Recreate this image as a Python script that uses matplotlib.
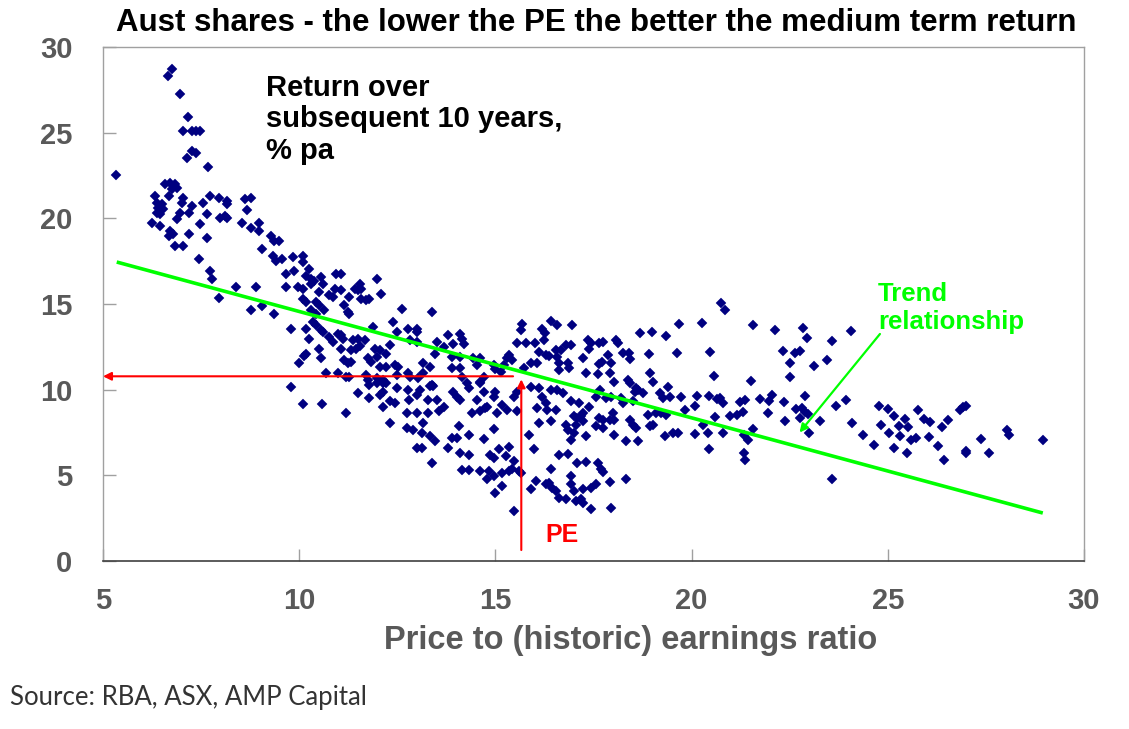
import matplotlib
matplotlib.use("Agg")
import matplotlib.pyplot as plt

# ---- data: (PE ratio, subsequent 10-year return % pa) ----
pts_high_returns = [
    (5.34, 22.52), (6.75, 28.71), (6.65, 28.31), (6.96, 27.26), (7.16, 25.89), (7.05, 25.08),
    (7.26, 25.08), (7.38, 25.08), (7.48, 25.12), (7.26, 23.92), (7.38, 23.82), (7.15, 23.53),
    (7.68, 22.99),
]
pts_low_pe = [
    (6.58, 21.98), (6.71, 22.07), (6.84, 21.98), (6.88, 21.78), (6.75, 21.69),
    (6.32, 21.3), (6.67, 21.3), (7.05, 21.2), (7.73, 21.3), (7.95, 21.2), (8.16, 21.01),
    (8.16, 20.82), (8.63, 21.1), (8.76, 21.2), (6.37, 20.91), (6.5, 20.82), (6.41, 20.62),
    (6.54, 20.53), (6.37, 20.33), (6.45, 20.24), (7.01, 20.91), (7.26, 20.72), (7.56, 20.91),
    (6.97, 20.33), (7.18, 20.33), (7.65, 20.24), (7.99, 20.04), (8.12, 20.14), (8.16, 20.04),
    (6.24, 19.75), (6.45, 19.56), (6.71, 19.27), (6.67, 18.98), (6.79, 19.07), (6.88, 19.95),
    (7.18, 19.07), (7.48, 19.66), (7.65, 18.88), (8.55, 19.75), (8.76, 19.46), (8.97, 19.75),
    (8.97, 19.27), (6.84, 18.4), (7.05, 18.4), (9.06, 18.2), (9.27, 18.98), (9.36, 18.69),
    (9.49, 18.69), (8.68, 20.47), (7.44, 17.62), (7.73, 16.95), (7.78, 16.46), (9.32, 17.82),
    (9.4, 17.53), (8.38, 16.02), (8.89, 15.98), (7.95, 15.36), (8.76, 14.66), (9.06, 14.86),
    (9.36, 14.43),
]
pts_pe_10_15_upper = [
    (9.57, 17.63), (9.83, 17.72), (10.09, 17.82), (10.09, 17.43), (9.87, 16.95), (9.66, 16.76),
    (10.26, 17.05), (10.17, 16.66), (10.3, 16.47), (10.38, 16.37), (10.56, 16.56), (10.6, 16.18),
    (9.66, 15.98), (9.96, 15.98), (10.09, 15.89), (10.3, 16.18), (10.51, 15.69),
    (10.94, 16.76), (11.07, 16.76), (10.9, 15.89), (11.07, 15.79), (10.77, 15.5), (10.85, 15.4),
    (11.54, 16.18), (11.41, 15.89), (11.5, 15.79), (11.58, 15.89), (11.28, 15.4), (11.58, 15.31),
    (11.71, 15.21), (11.79, 15.31), (11.99, 16.43), (12.09, 15.6),
    (10.09, 15.31), (10.17, 15.11), (10.43, 15.11), (10.51, 14.92), (10.3, 14.63), (10.43, 14.43),
    (10.64, 14.63), (11.15, 14.92), (11.24, 14.53), (11.28, 14.43), (12.61, 14.72), (13.38, 14.53),
    (9.79, 13.56), (10.17, 13.56), (10.34, 13.95), (10.43, 13.76), (10.56, 13.47), (10.6, 13.37),
    (10.26, 12.98), (10.77, 13.08), (10.85, 12.79), (10.98, 13.27), (11.07, 13.18), (11.11, 12.98),
    (11.37, 12.89), (11.5, 12.98), (11.67, 12.89), (11.88, 13.66), (12.39, 13.95), (12.48, 13.37),
    (12.78, 13.56), (12.99, 13.56), (12.99, 13.37),
    (10.17, 12.11), (10.13, 11.96), (10.51, 12.4), (10.56, 11.82), (11.07, 12.4), (11.32, 12.31),
    (11.45, 12.4), (11.54, 12.54), (11.92, 12.4), (12.05, 12.31), (12.22, 12.11), (12.31, 12.6),
    (10.0, 11.53), (11.15, 11.73), (11.24, 11.53), (11.32, 11.63), (11.75, 11.82), (11.84, 11.63),
    (11.97, 11.92), (12.44, 11.44), (12.52, 11.34), (12.05, 11.34), (12.22, 11.34),
    (12.82, 12.89), (12.99, 12.79), (13.5, 12.79), (13.8, 13.18), (13.93, 12.69), (14.1, 13.27),
    (14.15, 12.98), (14.19, 12.69), (13.46, 12.11), (13.68, 12.5), (13.89, 11.92), (14.1, 11.92),
    (14.44, 11.82), (14.62, 11.82), (14.53, 11.44), (13.16, 11.53), (13.33, 11.34), (13.89, 11.24),
    (14.1, 11.24), (14.96, 11.44),
    (10.68, 10.95), (10.98, 10.99), (11.2, 10.76), (11.28, 10.76), (11.71, 10.86), (11.75, 10.57),
    (11.97, 10.66), (12.14, 10.57), (12.22, 10.37), (12.48, 10.86), (12.78, 10.95), (12.82, 10.76),
    (13.03, 10.66), (13.16, 10.95), (13.38, 10.28), (14.15, 10.76), (14.27, 10.37), (14.62, 10.47),
    (14.7, 10.76),
]
pts_pe_10_15_lower = [
    (9.79, 10.14), (10.09, 9.17), (10.58, 9.17), (11.2, 8.63), (11.5, 9.79), (11.78, 9.5),
    (12.05, 9.69), (12.14, 9.89), (11.79, 10.27), (11.97, 10.37), (12.14, 10.37), (12.48, 10.08),
    (12.14, 9.01), (12.31, 9.31), (12.44, 9.21), (12.78, 9.98), (12.8, 9.4), (12.99, 9.69),
    (13.08, 9.98), (13.33, 10.21), (13.42, 10.21), (13.29, 9.4), (13.5, 9.4),
    (12.74, 8.63), (13.0, 8.63), (13.29, 8.63), (13.55, 8.73), (13.68, 9.01),
    (13.93, 9.89), (14.02, 9.6), (14.1, 9.4), (14.32, 10.08), (14.53, 9.4), (14.62, 10.37),
    (14.7, 9.89), (14.96, 9.6), (12.31, 8.05), (12.74, 7.76), (12.91, 7.66), (13.16, 8.05),
    (13.12, 7.47), (13.33, 7.27), (13.46, 6.98), (13.8, 6.6), (13.89, 7.18), (14.02, 7.18),
    (14.06, 7.89), (14.32, 7.37), (14.4, 8.63), (14.62, 8.73), (14.74, 8.92), (14.79, 9.01),
    (14.96, 7.7), (14.7, 7.12), (12.99, 6.6), (13.12, 6.6), (13.38, 5.73), (14.1, 6.31),
    (14.32, 6.21), (14.87, 6.21), (14.96, 6.02), (14.15, 5.3), (14.32, 5.3), (14.62, 5.24),
    (14.83, 5.24), (14.79, 4.8), (14.96, 4.95),
    (15.0, 9.89), (15.47, 9.6), (15.56, 9.89), (15.04, 8.63), (15.17, 9.11), (15.3, 8.82),
    (15.56, 8.73),
]
pts_pe_15_20 = [
    (15.68, 13.86), (15.64, 13.47), (16.41, 14.01), (16.58, 13.76), (16.95, 13.76),
    (16.2, 13.57), (16.26, 13.28), (16.24, 12.89), (15.56, 12.70), (15.77, 12.73), (16.01, 12.70),
    (15.34, 12.02), (15.3, 11.83), (15.43, 11.73), (15.21, 11.44), (15.13, 11.05), (15.0, 11.2),
    (16.11, 12.21), (16.28, 12.02), (16.37, 11.96), (16.54, 12.31), (16.67, 12.31), (16.79, 12.6),
    (16.92, 12.6), (16.58, 11.92), (16.62, 11.53), (16.84, 11.53), (16.88, 11.24), (16.62, 11.15),
    (15.9, 11.53), (16.07, 11.57), (15.73, 11.24),
    (17.35, 12.89), (17.44, 12.7), (17.39, 12.4), (17.65, 12.7), (17.74, 12.79), (18.08, 12.89),
    (18.12, 12.7), (18.69, 13.31), (19.0, 13.37), (19.34, 13.12), (19.68, 13.82),
    (17.24, 11.83), (17.72, 11.63), (17.63, 11.5), (17.86, 12.02), (17.95, 11.57), (18.25, 12.12),
    (18.4, 12.15), (18.42, 11.77), (18.91, 12.08), (19.62, 12.15),
    (17.32, 10.96), (17.61, 10.92), (17.92, 10.96), (18.03, 10.47), (18.38, 10.57), (18.42, 10.37),
    (18.93, 10.96), (19.02, 10.47), (18.59, 10.08),
    (15.9, 10.18), (16.11, 10.08), (16.41, 9.99), (16.58, 9.99), (16.71, 9.8),
    (16.2, 9.6), (16.28, 9.21), (16.07, 8.92), (16.32, 8.83), (16.54, 8.83), (16.41, 8.15),
    (16.11, 8.05), (16.92, 9.31), (17.14, 9.21), (17.39, 8.98), (17.01, 8.44), (17.09, 8.34),
    (17.18, 8.44), (17.22, 8.15), (17.05, 7.96), (17.22, 8.63), (16.79, 7.96),
    (17.56, 9.6), (17.67, 9.99), (17.82, 9.5), (17.95, 9.6), (18.21, 9.5), (18.25, 9.21),
    (18.5, 9.31), (18.55, 9.89), (18.63, 9.99), (18.76, 9.8),
    (17.65, 8.34), (17.74, 8.25), (17.91, 8.25), (18.03, 8.25), (17.99, 8.63), (17.56, 7.86),
    (17.74, 7.76), (18.42, 8.25), (18.5, 7.96), (18.59, 7.76), (18.93, 7.86), (19.02, 7.96),
    (18.89, 8.54), (19.1, 8.63), (19.23, 8.63), (19.36, 8.54),
    (19.19, 9.8), (19.27, 9.5), (19.44, 9.6), (19.4, 10.18), (19.74, 9.6), (20.13, 9.64),
    (19.83, 8.83), (20.09, 9.02), (19.32, 7.28), (19.53, 7.47), (19.66, 7.47), (20.09, 7.44),
    (15.85, 7.38), (16.92, 7.09), (17.31, 7.28), (18.03, 7.38), (18.33, 6.99), (18.63, 6.99),
    (16.84, 7.67), (17.01, 7.47), (15.98, 6.51), (16.62, 6.16), (16.84, 6.22),
    (15.34, 6.66), (15.26, 6.12), (15.09, 6.51),
    (15.47, 5.83), (15.43, 5.35), (15.34, 5.25), (15.17, 5.15), (15.64, 5.15), (15.6, 5.25),
    (15.17, 4.38), (15.0, 3.99), (15.47, 2.93), (16.41, 5.38),
    (17.09, 5.73), (17.31, 5.77), (17.61, 5.73), (17.69, 5.35), (17.74, 5.19),
    (16.92, 4.96), (16.92, 4.48), (18.33, 4.77), (17.91, 4.61), (17.56, 4.48), (17.44, 4.28),
    (17.22, 4.19), (16.03, 4.67), (16.28, 4.48), (16.37, 4.57), (16.45, 4.28), (16.54, 4.09),
    (16.62, 3.7), (16.79, 3.6), (15.9, 4.19), (17.01, 4.09), (17.05, 3.51), (17.18, 3.6),
    (17.22, 3.41), (17.44, 3.02), (17.95, 3.12),
]
pts_high_pe = [
    (20.75, 15.05), (20.84, 14.67), (20.26, 13.87), (21.56, 13.76), (22.12, 13.5), (22.84, 13.62),
    (22.95, 13.04), (23.59, 12.83), (24.06, 13.42), (20.47, 12.2), (22.32, 12.26), (22.63, 12.15),
    (22.76, 12.26), (22.5, 11.53), (23.12, 11.38), (23.46, 11.76), (20.56, 10.8), (21.51, 10.52),
    (22.52, 10.72), (20.44, 9.63), (20.64, 9.44), (20.73, 9.5), (20.81, 9.21), (21.24, 9.3),
    (21.35, 9.4), (21.75, 9.44), (21.96, 9.34), (22.05, 9.69), (22.35, 9.3), (22.88, 9.63),
    (22.65, 8.86), (22.82, 8.92), (22.9, 8.72), (22.97, 8.59), (23.67, 9.02), (23.93, 9.4),
    (20.6, 8.4), (20.98, 8.47), (21.15, 8.53), (21.3, 8.67), (21.95, 8.63), (22.37, 8.2),
    (22.76, 8.34), (23.26, 8.2), (20.3, 7.95), (20.41, 7.5), (20.81, 7.47), (21.33, 7.37),
    (21.56, 7.7), (21.45, 7.08), (22.99, 7.5), (20.44, 6.54), (21.33, 6.31), (21.35, 5.88),
    (23.57, 4.8), (24.08, 8.05), (24.36, 7.33), (24.66, 6.79), (24.77, 9.02), (25.0, 8.88),
    (25.17, 8.47), (24.83, 7.95), (25.04, 7.47), (25.28, 7.89), (25.43, 8.28), (25.51, 7.85),
    (25.32, 7.27), (25.17, 6.6), (25.6, 7.08), (25.71, 7.18), (25.49, 6.31), (25.77, 8.82),
    (25.91, 8.28), (26.08, 8.14), (26.05, 7.24), (26.28, 6.73), (26.37, 7.85), (26.54, 8.24),
    (26.43, 5.92), (26.84, 8.82), (26.92, 8.98), (26.99, 9.05), (27.0, 6.31), (27.0, 6.4),
    (27.37, 7.14), (27.59, 6.31), (28.05, 7.66), (28.08, 7.37), (28.96, 7.04),
]

trend_pe = [5.35, 28.95]
trend_ret = [17.45, 2.80]

x_ticks = [5, 10, 15, 20, 25, 30]
y_ticks = [0, 5, 10, 15, 20, 25, 30]

title = "Aust shares - the lower the PE the better the medium term return"
x_label = "Price to (historic) earnings ratio"
annot_return = "Return over\nsubsequent 10 years,\n% pa"
annot_trend = "Trend\nrelationship"
source = "Source: RBA, ASX, AMP Capital"

all_pts = (pts_high_returns + pts_low_pe + pts_pe_10_15_upper + pts_pe_10_15_lower
           + pts_pe_15_20 + pts_high_pe)
pe = [p[0] for p in all_pts]
ret = [p[1] for p in all_pts]

# ---- figure ----
W, H = 1129, 729
fig = plt.figure(figsize=(W / 100, H / 100), dpi=100)
ax = fig.add_axes([103 / W, 1 - 561 / H, (1084 - 103) / W, (561 - 47) / H])

NAVY = "#000080"
GREEN = "#00FF00"
RED = "#FF0000"
GREY = "#595959"
FONT = "Liberation Sans"

ax.plot(pe, ret, linestyle="none", marker="D", markersize=4.8,
        markerfacecolor=NAVY, markeredgecolor=NAVY, markeredgewidth=0.3, zorder=3)
ax.plot(trend_pe, trend_ret, color=GREEN, linewidth=2.6, zorder=4, solid_capstyle="butt")

# red PE arrows
ax.annotate("", xy=(5.0, 10.78), xytext=(15.45, 10.78),
            arrowprops=dict(arrowstyle="-|>", color=RED, lw=1.5, mutation_scale=12,
                            shrinkA=0, shrinkB=0), zorder=5)
ax.annotate("", xy=(15.66, 10.6), xytext=(15.66, 0.64),
            arrowprops=dict(arrowstyle="-|>", color=RED, lw=1.5, mutation_scale=12,
                            shrinkA=0, shrinkB=0), zorder=5)
ax.text(16.27, 1.52, "PE", color=RED, fontsize=18, fontweight="bold",
        family=FONT, ha="left", va="center")

# green trend arrow
ax.annotate("", xy=(22.75, 7.5), xytext=(24.8, 13.25),
            arrowprops=dict(arrowstyle="-|>", color=GREEN, lw=1.6, mutation_scale=12,
                            shrinkA=0, shrinkB=0), zorder=5)
ax.text(24.75, 16.3, annot_trend, color=GREEN, fontsize=18.5, fontweight="bold",
        family=FONT, ha="left", va="top", linespacing=1.22)
ax.text(9.15, 28.45, annot_return, color="black", fontsize=21, fontweight="bold",
        family=FONT, ha="left", va="top", linespacing=1.17)

ax.set_xlim(5, 30)
ax.set_ylim(0, 30)
ax.set_xticks(x_ticks)
ax.set_yticks(y_ticks)
ax.set_xticklabels([str(t) for t in x_ticks])
ax.set_yticklabels([str(t) for t in y_ticks])
ax.tick_params(axis="y", direction="in", length=9, width=1, color="#A0A0A0", pad=22,
               labelsize=21, labelcolor=GREY)
ax.tick_params(axis="x", direction="in", length=9, width=1, color="#A0A0A0", pad=19,
               labelsize=21, labelcolor=GREY)
for lab in ax.get_xticklabels() + ax.get_yticklabels():
    lab.set_fontweight("bold")
    lab.set_family(FONT)

for side in ["top", "right", "left"]:
    ax.spines[side].set_color("#A0A0A0")
    ax.spines[side].set_linewidth(1)
ax.spines["bottom"].set_color("#404040")
ax.spines["bottom"].set_linewidth(1.2)

fig.text(596 / W, 1 - 23 / H, title, ha="center", va="center", fontsize=22.5,
         fontweight="bold", family=FONT, color="black")
fig.text(631 / W, 1 - 640 / H, x_label, ha="center", va="center", fontsize=23.5,
         fontweight="bold", family=FONT, color=GREY)
fig.text(10 / W, 1 - 697 / H, source, ha="left", va="center", fontsize=18.5,
         family="Lato", color="#333333")

fig.savefig("out.png", dpi=100)
